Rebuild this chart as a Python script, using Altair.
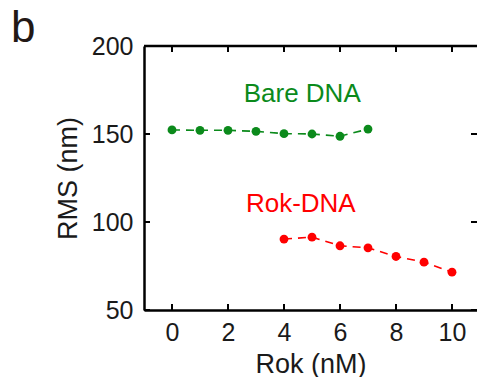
import altair as alt
import pandas as pd

# Data
bare_rok = [0, 1, 2, 3, 4, 5, 6, 7]
bare_rms = [152.3, 152.1, 152.1, 151.5, 150.2, 150.0, 148.7, 152.8]
rok_rok = [4, 5, 6, 7, 8, 9, 10]
rok_rms = [90.3, 91.4, 86.5, 85.3, 80.4, 77.2, 71.5]

label_text = ["Bare DNA", "Rok-DNA"]
label_x = [4.65, 4.6]
label_y = [172.5, 110.0]
label_color = ["#0b8a1b", "#ff0000"]

x_ticks = [0, 2, 4, 6, 8, 10]
y_ticks = [50, 100, 150, 200]

GREEN = "#0b8a1b"
RED = "#ff0000"
FONT = "Liberation Sans"
TXT = "#1a1a1a"

W, H = 333, 264
TICK = 6
x_scale = alt.Scale(domain=[-1, -1 + W / 28.0], nice=False, zero=False)
y_scale = alt.Scale(domain=[50, 200], nice=False, zero=False)

df = pd.DataFrame(
    {
        "rok": bare_rok + rok_rok,
        "rms": bare_rms + rok_rms,
        "series": ["Bare DNA"] * len(bare_rok) + ["Rok-DNA"] * len(rok_rok),
    }
)
labels = pd.DataFrame({"text": label_text, "x": label_x, "y": label_y, "c": label_color})
xt = pd.DataFrame({"v": x_ticks})
yt = pd.DataFrame({"v": y_ticks})

color = alt.Color(
    "series:N",
    scale=alt.Scale(domain=["Bare DNA", "Rok-DNA"], range=[GREEN, RED]),
    legend=None,
)

x_main = alt.X(
    "rok:Q",
    scale=x_scale,
    axis=alt.Axis(
        values=x_ticks,
        title="Rok (nM)",
        tickSize=0,
        labelPadding=10,
        labelFontSize=25,
        titleFontSize=27,
        titlePadding=6,
        labelFont=FONT,
        titleFont=FONT,
        titleFontWeight="normal",
        labelColor=TXT,
        titleColor=TXT,
        domainColor="black",
        domainWidth=2.5,
        grid=False,
    ),
)
y_main = alt.Y(
    "rms:Q",
    scale=y_scale,
    axis=alt.Axis(
        values=y_ticks,
        title="RMS (nm)",
        tickSize=0,
        labelPadding=11,
        labelFontSize=25,
        titleFontSize=27,
        titlePadding=9,
        labelFont=FONT,
        titleFont=FONT,
        titleFontWeight="normal",
        labelColor=TXT,
        titleColor=TXT,
        domainColor="black",
        domainWidth=2.5,
        grid=False,
    ),
)

lines = (
    alt.Chart(df)
    .mark_line(strokeDash=[8, 6], strokeWidth=1.6)
    .encode(x=x_main, y=y_main, color=color, detail="series:N")
)
points = (
    alt.Chart(df)
    .mark_circle(size=78, opacity=1)
    .encode(x=alt.X("rok:Q", scale=x_scale), y=alt.Y("rms:Q", scale=y_scale), color=color)
)

# Inward tick marks on all four sides
tick_style = dict(color="black", strokeWidth=2)
ticks_bottom = (
    alt.Chart(xt)
    .mark_rule(**tick_style)
    .encode(x=alt.X("v:Q", scale=x_scale), y=alt.value(H), y2=alt.value(H - TICK))
)
ticks_top = (
    alt.Chart(xt)
    .mark_rule(**tick_style)
    .encode(x=alt.X("v:Q", scale=x_scale), y=alt.value(0), y2=alt.value(TICK))
)
ticks_left = (
    alt.Chart(yt)
    .mark_rule(**tick_style)
    .encode(y=alt.Y("v:Q", scale=y_scale), x=alt.value(0), x2=alt.value(TICK))
)
ticks_right = (
    alt.Chart(yt)
    .mark_rule(**tick_style)
    .encode(y=alt.Y("v:Q", scale=y_scale), x=alt.value(W), x2=alt.value(W - TICK))
)
top_line = (
    alt.Chart(pd.DataFrame({"t": [0]}))
    .mark_rule(color="black", strokeWidth=2.5)
    .encode(y=alt.value(0), x=alt.value(0), x2=alt.value(W + 5))
)

text = (
    alt.Chart(labels)
    .mark_text(fontSize=26, font=FONT, align="center", baseline="middle")
    .encode(
        x=alt.X("x:Q", scale=x_scale),
        y=alt.Y("y:Q", scale=y_scale),
        text="text:N",
        color=alt.Color("c:N", scale=None),
    )
)

panel = (
    alt.Chart(pd.DataFrame({"t": ["b"]}))
    .mark_text(fontSize=44, font=FONT, align="left", baseline="alphabetic", color="#231815")
    .encode(x=alt.value(-133), y=alt.value(-4), text="t:N")
)

chart = (
    alt.layer(lines, points, text, ticks_bottom, ticks_top, ticks_left, ticks_right, top_line, panel)
    .properties(
        width=W,
        height=H,
        autosize=alt.AutoSizeParams(type="none"),
        padding={"left": 144, "top": 46, "right": 0, "bottom": 67},
        background="white",
    )
    .configure_view(strokeWidth=0)
)

chart.save("out.html", embed_options={"renderer": "svg", "actions": False})
